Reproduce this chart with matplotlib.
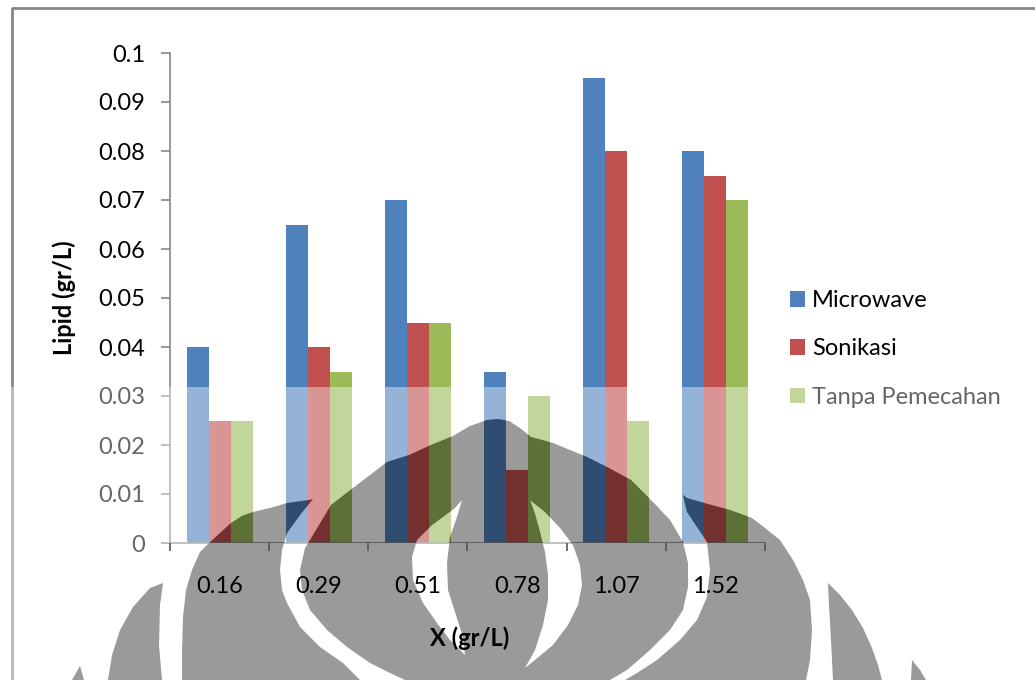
import numpy as np
import matplotlib
matplotlib.use("Agg")
import matplotlib.pyplot as plt
import matplotlib.colors as mcolors
from matplotlib.patches import PathPatch, Rectangle
from matplotlib.path import Path
from matplotlib.transforms import Affine2D
from matplotlib.lines import Line2D

# ---- data -------------------------------------------------------------
categories = ["0.16", "0.29", "0.51", "0.78", "1.07", "1.52"]
microwave = [0.040, 0.065, 0.070, 0.035, 0.095, 0.080]
sonikasi = [0.025, 0.040, 0.045, 0.015, 0.080, 0.075]
tanpa_pemecahan = [0.025, 0.035, 0.045, 0.030, 0.025, 0.070]
series_names = ["Microwave", "Sonikasi", "Tanpa Pemecahan"]
y_ticks = [0, 0.01, 0.02, 0.03, 0.04, 0.05, 0.06, 0.07, 0.08, 0.09, 0.1]
y_tick_labels = ["0", "0.01", "0.02", "0.03", "0.04", "0.05",
                 "0.06", "0.07", "0.08", "0.09", "0.1"]

colors = ["#4F81BD", "#C0504D", "#9BBB59"]
axis_gray = "#868686"

plt.rcParams["font.family"] = ["Lato", "DejaVu Sans"]
FS = 17

W, H = 1035, 680
fig = plt.figure(figsize=(W / 100, H / 100), dpi=100)
fig.patch.set_facecolor("white")

# pixel coordinates measured from the top-left corner of the figure
px = Affine2D().scale(1 / W, -1 / H).translate(0, 1) + fig.transFigure

# outer chart-area frame (left and top edges)
frame = Line2D([12, 12, 1040], [700, 8, 8], transform=px, color="#878787",
               lw=2, zorder=-1)
fig.add_artist(frame)

ax = fig.add_axes([170 / W, 1 - 543 / H, 595 / W, 490 / H])
ax.set_facecolor("none")

x = np.arange(len(categories))
bw = 0.2222
series = [microwave, sonikasi, tanpa_pemecahan]
bars = []
for i, (vals, c, name) in enumerate(zip(series, colors, series_names)):
    b = ax.bar(x + (i - 1) * bw, vals, bw, color=c, linewidth=0,
               zorder=2, label=name)
    bars.append(b)

ax.set_xlim(-0.5, len(categories) - 0.5)
ax.set_ylim(0, 0.1)

for s in ("top", "right"):
    ax.spines[s].set_visible(False)
for s in ("left", "bottom"):
    ax.spines[s].set_color(axis_gray)
    ax.spines[s].set_linewidth(1.2)

ax.set_yticks(y_ticks, y_tick_labels)
ax.tick_params(axis="y", direction="out", length=6.5, width=1.2,
               color=axis_gray, pad=11.5, labelsize=FS, labelcolor="black")
ax.set_xticks(x, categories)
ax.set_xticks(np.arange(-0.5, len(categories)), minor=True)
ax.tick_params(axis="x", which="major", length=0, pad=24, labelsize=FS,
               labelcolor="black")
ax.tick_params(axis="x", which="minor", direction="out", length=6,
               width=1.2, color="#555555")

ax.set_ylabel("Lipid (gr/L)", fontsize=FS, fontweight="bold")
ax.yaxis.set_label_coords((76 - 170) / 595, 0.5)
ax.set_xlabel("X (gr/L)", fontsize=FS, fontweight="bold")
ax.xaxis.set_label_coords((470 - 170) / 595, (543 - 626) / 490)

leg = ax.legend(handles=bars, loc="center left",
                bbox_to_anchor=(790 / W, 1 - 349 / H),
                bbox_transform=fig.transFigure, frameon=False,
                fontsize=FS, handlelength=0.64, handleheight=0.64,
                handletextpad=0.3, labelspacing=1.15, borderpad=0,
                borderaxespad=0)

# ---- watermark: light veil over the lower part and a grey emblem ------
veil = Rectangle((0, 387), W, H - 387, transform=px, facecolor="white",
                 alpha=0.4, edgecolor="none", zorder=8, clip_on=False)
ax.add_artist(veil)

outer_parts = [
    # far-left sliver
    [(80, 666), (84, 680), (72, 680)],
    # left lobe
    [(163, 583), (150, 588), (133, 607), (120, 630), (112, 655),
     (108, 680), (162, 680), (159, 645), (160, 605)],
    # second lobe
    [(207, 545), (220, 533), (231, 523), (242, 516), (253, 512),
     (270, 508), (287, 503), (309, 500), (313, 499), (300, 515),
     (287, 533), (282, 550), (280, 570), (282, 590), (287, 603),
     (300, 627), (320, 647), (343, 663), (360, 680), (182, 680),
     (182, 650), (183, 617), (186, 590), (192, 570), (200, 552)],
    # central dome
    [(331, 505), (310, 540), (305, 548), (300, 570), (302, 590),
     (310, 610), (327, 630), (347, 647), (370, 663), (390, 673),
     (405, 680), (610, 680), (627, 670), (650, 650), (670, 630),
     (683, 610), (688, 587), (688, 563), (683, 542), (670, 520),
     (653, 502), (631, 480), (609, 468), (587, 457), (570, 450),
     (553, 443), (531, 437), (520, 428), (509, 421), (498, 419),
     (487, 420), (470, 426), (453, 436), (431, 445), (409, 455),
     (387, 462), (370, 475), (353, 488)],
    # right lobe
    [(683, 495), (687, 498), (708, 504), (730, 510), (752, 518),
     (765, 528), (780, 540), (793, 560), (803, 580), (810, 600),
     (812, 630), (810, 660), (806, 680), (625, 680), (637, 673),
     (657, 660), (680, 640), (697, 620), (707, 597), (710, 570),
     (707, 542), (687, 512)],
    # far-right lobe
    [(828, 583), (840, 595), (852, 610), (863, 628), (872, 648),
     (878, 665), (882, 680), (833, 680), (831, 640), (829, 605)],
    # small piece at the far right
    [(912, 660), (920, 670), (926, 680), (911, 680)],
]
holes = [
    # crescent under 0.51
    [(462, 500), (455, 508), (432, 525), (417, 540), (412, 557),
     (413, 580), (423, 603), (437, 623), (450, 640), (465, 655),
     (463, 637), (455, 612), (448, 590), (447, 563), (450, 537),
     (457, 517)],
    # crescent between 0.78 and 1.07
    [(530, 500), (545, 512), (560, 528), (573, 545), (580, 565),
     (582, 585), (578, 605), (568, 625), (553, 645), (535, 660),
     (525, 668), (535, 650), (543, 625), (548, 600), (548, 575),
     (545, 552), (540, 532), (535, 514)],
]


def ring(points, ccw=True):
    pts = np.asarray(points, dtype=float)
    area = 0.5 * np.sum(pts[:, 0] * np.roll(pts[:, 1], -1)
                        - np.roll(pts[:, 0], -1) * pts[:, 1])
    if (area > 0) != ccw:
        pts = pts[::-1]
    verts = np.vstack([pts, pts[:1]])
    codes = [Path.MOVETO] + [Path.LINETO] * (len(pts) - 1) + [Path.CLOSEPOLY]
    return verts, codes


verts, codes = [], []
for part in outer_parts:
    v, c = ring(part, ccw=True)
    verts.append(v)
    codes += c
for part in holes:
    v, c = ring(part, ccw=False)
    verts.append(v)
    codes += c
emblem_path = Path(np.vstack(verts), codes)
emblem = PathPatch(emblem_path, transform=px, facecolor="#9A9A9A",
                   edgecolor="none", zorder=9, clip_on=False)
ax.add_artist(emblem)

# bars and axis line seen through the emblem (multiplied tone)
for i, (vals, c) in enumerate(zip(series, colors)):
    dark = tuple(0.6 * np.array(mcolors.to_rgb(c)))
    shade = ax.bar(x + (i - 1) * bw, vals, bw, color=dark, linewidth=0,
                   zorder=10)
    for r in shade:
        r.set_clip_path(emblem)
base = ax.axhline(0, color="#505050", lw=1.2, zorder=10)
base.set_clip_path(emblem)

ax.xaxis.set_zorder(11)

fig.savefig("out.png", dpi=100, facecolor="white")
